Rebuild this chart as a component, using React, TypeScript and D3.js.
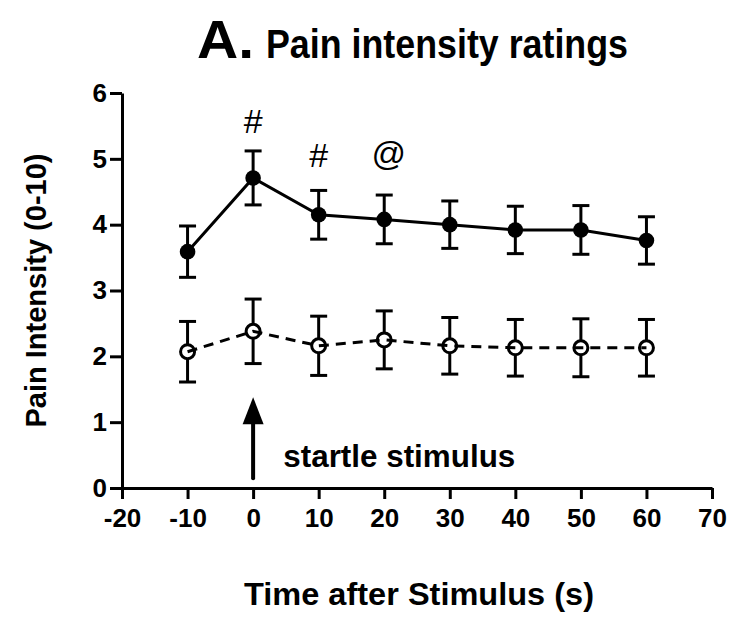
import React, { useEffect, useRef } from "react";
import * as d3 from "d3";

const times = [-10, 0, 10, 20, 30, 40, 50, 60];
const startleMean = [3.59, 4.71, 4.15, 4.08, 4.0, 3.92, 3.92, 3.76];
const startleSem = [0.39, 0.41, 0.37, 0.37, 0.36, 0.36, 0.37, 0.36];
const controlMean = [2.07, 2.38, 2.16, 2.25, 2.16, 2.13, 2.13, 2.13];
const controlSem = [0.46, 0.49, 0.45, 0.44, 0.43, 0.43, 0.44, 0.43];
const xTicks = [-20, -10, 0, 10, 20, 30, 40, 50, 60, 70];
const yTicks = [0, 1, 2, 3, 4, 5, 6];
const marks = [
  { t: 0, v: 5.39, label: "#" },
  { t: 10, v: 4.87, label: "#" },
  { t: 20.7, v: 4.9, label: "@" },
];
const arrowSpan = { t: 0, from: 0.15, to: 1.38 };
const arrowNote = { t: 4.6, v: 0.32, label: "startle stimulus" };

const W = 731;
const H = 619;
const FONT = "'Liberation Sans', Arial, Helvetica, sans-serif";

export default function App() {
  const xRef = useRef<SVGGElement>(null);
  const yRef = useRef<SVGGElement>(null);

  const x = d3.scaleLinear().domain([-20, 70]).range([122, 712]);
  const y = d3.scaleLinear().domain([0, 6]).range([488, 93]);

  useEffect(() => {
    const gx = d3.select(xRef.current!);
    gx.selectAll("*").remove();
    gx.call(
      d3.axisBottom(x).tickValues(xTicks).tickSize(11).tickSizeOuter(0).tickPadding(10).tickFormat((d) => String(d))
    );
    gx.select(".domain").attr("stroke", "#000").attr("stroke-width", 3);
    gx.selectAll(".tick line").attr("stroke", "#000").attr("stroke-width", 3);
    gx.selectAll(".tick text")
      .attr("font-family", FONT)
      .attr("font-weight", "bold")
      .attr("font-size", 26)
      .attr("fill", "#000");

    const gy = d3.select(yRef.current!);
    gy.selectAll("*").remove();
    gy.call(d3.axisLeft(y).tickValues(yTicks).tickSize(12).tickSizeOuter(0).tickPadding(3).tickFormat((d) => String(d)));
    gy.select(".domain").attr("stroke", "#000").attr("stroke-width", 3);
    gy.selectAll(".tick line").attr("stroke", "#000").attr("stroke-width", 3);
    gy.selectAll(".tick text")
      .attr("font-family", FONT)
      .attr("font-weight", "bold")
      .attr("font-size", 26)
      .attr("fill", "#000");
  }, []);

  const line = d3
    .line<number>()
    .x((_, i) => x(times[i]))
    .y((d) => y(d));

  const R_FILL = 7.8;
  const R_OPEN = 7;
  const CAP = 8.5;

  const errorBars = (means: number[], sems: number[], r: number, key: string) =>
    means.map((m, i) => {
      const cx = x(times[i]);
      const top = y(m + sems[i]);
      const bot = y(m - sems[i]);
      const cy = y(m);
      return (
        <g key={key + i} stroke="#000" strokeWidth={3}>
          <line x1={cx} x2={cx} y1={top} y2={cy - r} />
          <line x1={cx} x2={cx} y1={cy + r} y2={bot} />
          <line x1={cx - CAP} x2={cx + CAP} y1={top} y2={top} />
          <line x1={cx - CAP} x2={cx + CAP} y1={bot} y2={bot} />
        </g>
      );
    });

  const ax = x(arrowSpan.t);
  const aTip = y(arrowSpan.to);
  const aBot = y(arrowSpan.from);

  return (
    <div style={{ position: "absolute", left: 0, top: 0 }}>
      <svg width={W} height={H} style={{ display: "block", background: "#fff" }}>
        <rect x={0} y={0} width={W} height={H} fill="#fff" />
        {/* Title */}
        <text x={197} y={58} fontFamily={FONT} fontWeight="bold" fontSize={54} fill="#000" textLength={57} lengthAdjust="spacingAndGlyphs">
          A.
        </text>
        <text x={266} y={58} fontFamily={FONT} fontWeight="bold" fontSize={41} fill="#000" textLength={362} lengthAdjust="spacingAndGlyphs">
          Pain intensity ratings
        </text>

        {/* Axis titles */}
        <text
          transform={`translate(46, ${(y(0) + y(6)) / 2}) rotate(-90)`}
          textAnchor="middle"
          fontFamily={FONT}
          fontWeight="bold"
          fontSize={29}
          fill="#000"
          textLength={274}
          lengthAdjust="spacingAndGlyphs"
        >
          Pain Intensity (0-10)
        </text>
        <text x={419} y={605} textAnchor="middle" fontFamily={FONT} fontWeight="bold" fontSize={31} fill="#000" textLength={350} lengthAdjust="spacingAndGlyphs">
          Time after Stimulus (s)
        </text>

        <g ref={xRef} transform={`translate(0, ${y(0)})`} />
        <g ref={yRef} transform={`translate(${x(-20)}, 0)`} />

        {/* Control (dashed, open) */}
        <path d={line(controlMean) || ""} fill="none" stroke="#000" strokeWidth={3} strokeDasharray="10,7" />
        {errorBars(controlMean, controlSem, R_OPEN, "c")}
        {controlMean.map((m, i) => (
          <circle key={"co" + i} cx={x(times[i])} cy={y(m)} r={R_OPEN} fill="none" stroke="#000" strokeWidth={3} />
        ))}

        {/* Startle (solid, filled) */}
        <path d={line(startleMean) || ""} fill="none" stroke="#000" strokeWidth={3} />
        {errorBars(startleMean, startleSem, 0, "s")}
        {startleMean.map((m, i) => (
          <circle key={"so" + i} cx={x(times[i])} cy={y(m)} r={R_FILL} fill="#000" />
        ))}

        {/* Significance marks */}
        {marks.map((mk, i) => (
          <text key={"mk" + i} x={x(mk.t)} y={y(mk.v)} textAnchor="middle" fontFamily={FONT} fontSize={34} fill="#000">
            {mk.label}
          </text>
        ))}

        {/* Arrow */}
        <line x1={ax} x2={ax} y1={aBot} y2={aTip + 20} stroke="#000" strokeWidth={4} strokeLinecap="round" />
        <path d={`M${ax},${aTip} L${ax - 10.5},${aTip + 27} L${ax + 10.5},${aTip + 27} Z`} fill="#000" />
        <text x={x(arrowNote.t)} y={y(arrowNote.v)} fontFamily={FONT} fontWeight="bold" fontSize={31} fill="#000" textLength={232} lengthAdjust="spacingAndGlyphs">
          {arrowNote.label}
        </text>
      </svg>
    </div>
  );
}
